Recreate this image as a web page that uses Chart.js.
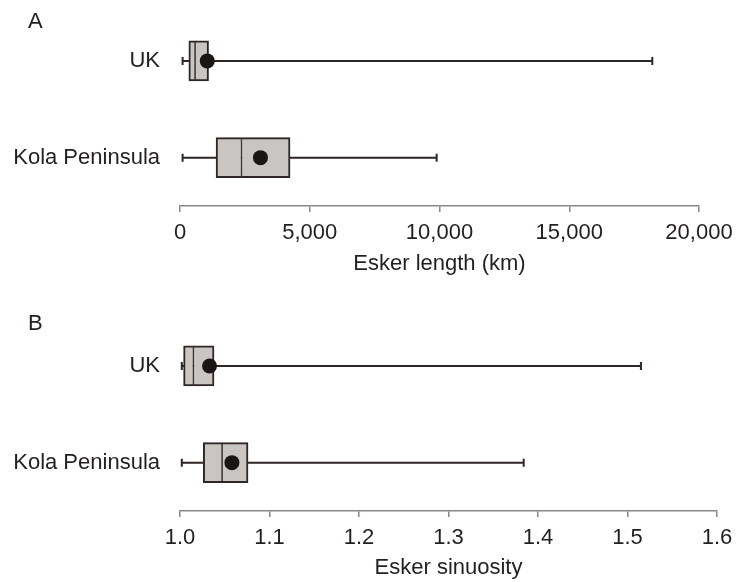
<!DOCTYPE html>
<html>
<head>
<meta charset="utf-8">
<script src="https://cdn.jsdelivr.net/npm/chart.js@4.4.1/dist/chart.umd.min.js"></script>
<style>
  body { margin: 0; background: #fff; }
  #wrap { position: relative; width: 736px; height: 582px; overflow: hidden; }
  canvas { position: absolute; left: 0; }
  #lenChart { top: 0; }
  #sinChart { top: 291px; }
  .panel { position: absolute; left: 28px; font: 22px "Liberation Sans", Arial, sans-serif; color: #231f20; }
</style>
</head>
<body>
<div id="wrap">
  <canvas id="lenChart" width="736" height="291"></canvas>
  <canvas id="sinChart" width="736" height="291"></canvas>
  <div class="panel" style="top:8px">A</div>
  <div class="panel" style="top:310px">B</div>
</div>
<script>
const groups = ['UK', 'Kola Peninsula'];

// Esker length (km)
const lenMin = [100, 100];
const lenQ1 = [340, 1390];
const lenMedian = [580, 2370];
const lenQ3 = [1100, 4240];
const lenMax = [18200, 9890];
const lenMean = [1050, 3100];
const lenTicks = [0, 5000, 10000, 15000, 20000];

// Esker sinuosity
const sinMin = [1.002, 1.002];
const sinQ1 = [1.004, 1.026];
const sinMedian = [1.015, 1.047];
const sinQ3 = [1.038, 1.076];
const sinMax = [1.515, 1.384];
const sinMean = [1.033, 1.058];
const sinTicks = [1.0, 1.1, 1.2, 1.3, 1.4, 1.5, 1.6];

Chart.defaults.font.family = '"Liberation Sans", Arial, sans-serif';
Chart.defaults.font.size = 22;
Chart.defaults.color = '#231f20';

const boxFill = '#c9c5c3';
const ink = '#2d2624';
const axisGrey = '#8c8784';

// whisker lines and end caps, drawn under the boxes
const whiskers = {
  id: 'whiskers',
  beforeDatasetsDraw(chart, args, opts) {
    const ctx = chart.ctx;
    const x = chart.scales.x, y = chart.scales.y;
    ctx.save();
    ctx.strokeStyle = ink;
    ctx.lineWidth = 2;
    opts.min.forEach(function (mn, i) {
      const yc = y.getPixelForValue(i);
      const x0 = x.getPixelForValue(mn);
      const x1 = x.getPixelForValue(opts.max[i]);
      ctx.beginPath();
      ctx.moveTo(x0, yc); ctx.lineTo(x1, yc);
      ctx.moveTo(x0, yc - 4); ctx.lineTo(x0, yc + 4);
      ctx.moveTo(x1, yc - 4); ctx.lineTo(x1, yc + 4);
      ctx.stroke();
    });
    ctx.restore();
  }
};

function boxChart(id, mins, q1, med, q3, maxs, means, ticks, fmt, title, s) {
  return new Chart(document.getElementById(id), {
    type: 'bar',
    data: {
      labels: groups,
      datasets: [
        {
          type: 'line',
          data: means,
          showLine: false,
          pointRadius: 7.5,
          pointBackgroundColor: '#1a1615',
          pointBorderWidth: 0,
          order: 0
        },
        {
          data: groups.map((g, i) => [q1[i], med[i]]),
          backgroundColor: boxFill,
          borderColor: ink,
          borderWidth: { left: 2, top: 2, bottom: 2, right: 1 },
          borderSkipped: false,
          barThickness: 40,
          grouped: false,
          order: 1
        },
        {
          data: groups.map((g, i) => [med[i], q3[i]]),
          backgroundColor: boxFill,
          borderColor: ink,
          borderWidth: { left: 1, top: 2, bottom: 2, right: 2 },
          borderSkipped: false,
          barThickness: 40,
          grouped: false,
          order: 2
        }
      ]
    },
    options: {
      indexAxis: 'y',
      responsive: false,
      animation: false,
      devicePixelRatio: 1,
      layout: { padding: { top: s.top, right: 0, left: 0, bottom: 0 } },
      plugins: {
        legend: { display: false },
        tooltip: { enabled: false },
        whiskers: { min: mins, max: maxs }
      },
      scales: {
        y: {
          grid: { display: false, drawTicks: false },
          border: { display: false },
          ticks: { padding: 20 },
          afterFit: function (scale) {
            scale.width = 180;
            scale.paddingTop = 0;
            scale.paddingBottom = 0;
          }
        },
        x: {
          min: ticks[0],
          max: ticks[ticks.length - 1],
          afterBuildTicks: function (scale) { scale.ticks = ticks.map(v => ({ value: v })); },
          grid: { drawOnChartArea: false, drawTicks: true, tickLength: 6, color: axisGrey, lineWidth: 1.5 },
          border: { display: true, color: axisGrey, width: 1.5 },
          ticks: { padding: 8, callback: fmt },
          title: { display: true, text: title, padding: { top: 0, bottom: s.titlePad } },
          afterFit: function (scale) {
            scale.height = s.axisH;
            scale.paddingRight = s.right;
          }
        }
      }
    },
    plugins: [whiskers]
  });
}

boxChart('lenChart', lenMin, lenQ1, lenMedian, lenQ3, lenMax, lenMean, lenTicks,
  v => v.toLocaleString('en-US'), 'Esker length (km)',
  { top: 12.5, right: 37, axisH: 85, titlePad: 13.8 });

boxChart('sinChart', sinMin, sinQ1, sinMedian, sinQ3, sinMax, sinMean, sinTicks,
  v => v.toFixed(1), 'Esker sinuosity',
  { top: 26.6, right: 19, axisH: 71, titlePad: 0.8 });
</script>
</body>
</html>
